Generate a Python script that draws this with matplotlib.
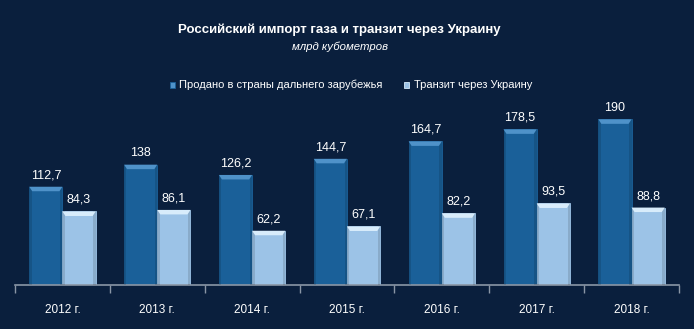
import matplotlib
matplotlib.use("Agg")
import matplotlib.pyplot as plt
from matplotlib.patches import Polygon, Rectangle
import numpy as np

years = ["2012 г.", "2013 г.", "2014 г.", "2015 г.", "2016 г.", "2017 г.", "2018 г."]
sold = [112.7, 138, 126.2, 144.7, 164.7, 178.5, 190]
transit = [84.3, 86.1, 62.2, 67.1, 82.2, 93.5, 88.8]
sold_labels = ["112,7", "138", "126,2", "144,7", "164,7", "178,5", "190"]
transit_labels = ["84,3", "86,1", "62,2", "67,1", "82,2", "93,5", "88,8"]
series_names = ["Продано в страны дальнего зарубежья", "Транзит через Украину"]

title = "Российский импорт газа и транзит через Украину"
subtitle = "млрд кубометров"

BG = "#0a1f3d"
DARK = "#1a6099"
DARK_TOP = "#4f92c9"
LIGHT = "#9cc3e7"
LIGHT_TOP = "#d8ecfb"
FONT = ["Liberation Sans", "DejaVu Sans"]

plt.rcParams['font.family'] = FONT

W, H = 694, 329
fig = plt.figure(figsize=(W / 100, H / 100), dpi=100, facecolor=BG)
ymax = 200
px_per_unit = 0.872
ax_left, ax_right, ax_bottom_px = 15, 679, 285
ax_h_px = ymax * px_per_unit
ax = fig.add_axes([ax_left / W, (H - ax_bottom_px) / H,
                   (ax_right - ax_left) / W, ax_h_px / H])
ax.set_facecolor(BG)
ax.set_xlim(-0.5, len(years) - 0.5)
ax.set_ylim(0, ymax)

bw = 0.35
x = np.arange(len(years))
units_per_px_y = 1 / px_per_unit
units_per_px_x = len(years) / (ax_right - ax_left)
bevel_h = 4.5 * units_per_px_y
bevel_in = 3 * units_per_px_x


def draw_bars(xs, vals, color, topcolor, labels):
    bars = ax.bar(xs, vals, width=bw, color=color, edgecolor=color, linewidth=0.6, zorder=2)
    for b, v, lab in zip(bars, vals, labels):
        x0 = b.get_x()
        x1 = x0 + b.get_width()
        ax.add_patch(Rectangle((x0, 0), bevel_in * 0.8, v, facecolor="black", alpha=0.12,
                               linewidth=0, zorder=3))
        ax.add_patch(Rectangle((x1 - bevel_in * 0.8, 0), bevel_in * 0.8, v, facecolor="black",
                               alpha=0.12, linewidth=0, zorder=3))
        poly = Polygon([(x0, v), (x1, v), (x1 - bevel_in, v - bevel_h), (x0 + bevel_in, v - bevel_h)],
                       closed=True, facecolor=topcolor, edgecolor="none", zorder=4)
        ax.add_patch(poly)
        ax.annotate(lab, (b.get_x() + b.get_width() / 2, v), xytext=(0, 4),
                    textcoords="offset points", ha="center", va="bottom",
                    color="white", fontsize=9, zorder=5)
    return bars


draw_bars(x - bw / 2, sold, DARK, DARK_TOP, sold_labels)
draw_bars(x + bw / 2, transit, LIGHT, LIGHT_TOP, transit_labels)

for s in ["top", "right", "left"]:
    ax.spines[s].set_visible(False)
ax.spines["bottom"].set_color("#8a96a6")
ax.spines["bottom"].set_linewidth(1.2)
ax.set_yticks([])
ax.set_xticks(x)
ax.set_xticklabels(years, color="white", fontsize=8.5)
ax.tick_params(axis="x", which="major", length=0, pad=14)
ax.set_xticks(np.arange(-0.5, len(years), 1), minor=True)
ax.tick_params(axis="x", which="minor", length=6, color="#8a96a6", width=1, direction="out")

fig.text(339 / W, 1 - 30 / H, title, ha="center", va="center", color="white",
         fontsize=9.5, fontweight="bold")
fig.text(340 / W, 1 - 47 / H, subtitle, ha="center", va="center", color="white",
         fontsize=8.2, style="italic")

# legend
leg_y = 1 - 85 / H
for mx, tx, fc, ec, name in [(172, 179, DARK_TOP, DARK, series_names[0]),
                             (407, 414, LIGHT, LIGHT_TOP, series_names[1])]:
    fig.patches.append(Rectangle((mx / W - 2.5 / W, leg_y - 3 / H), 5 / W, 6 / H,
                                 transform=fig.transFigure, facecolor=fc, edgecolor=ec,
                                 linewidth=0.6))
    fig.text(tx / W, leg_y, name, ha="left", va="center", color="white", fontsize=8)

fig.savefig("out.png", dpi=100, facecolor=BG)
